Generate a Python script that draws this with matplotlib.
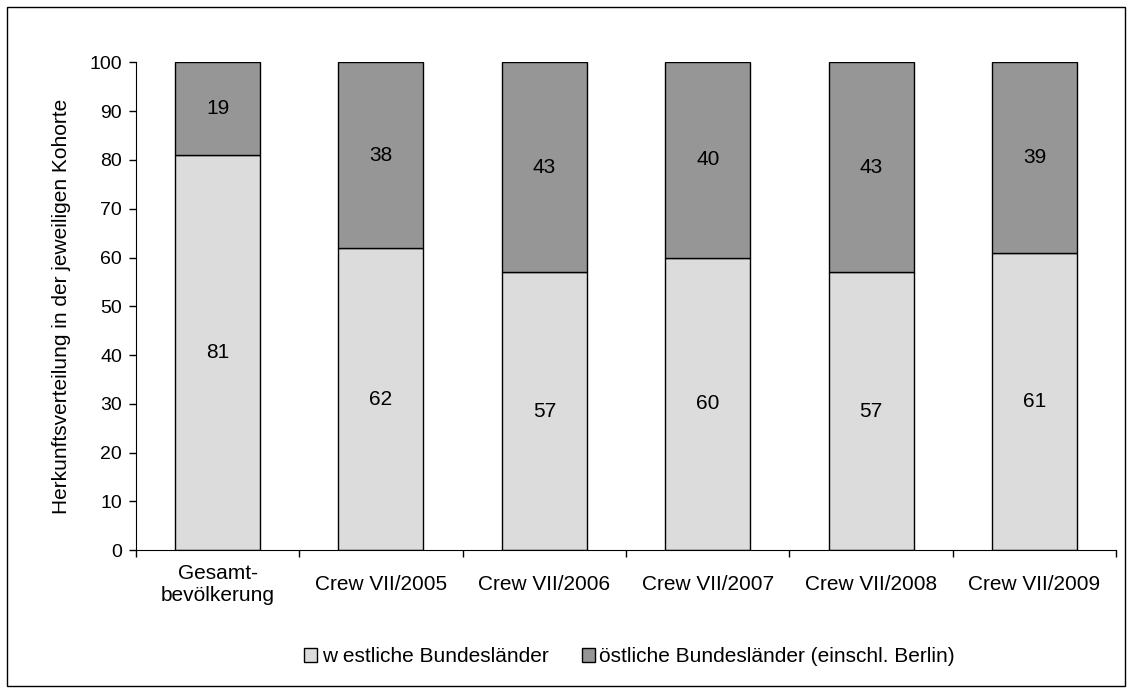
import numpy as np
import matplotlib.pyplot as plt
from matplotlib.patches import Rectangle

plt.rcParams['font.family'] = ['Liberation Sans', 'DejaVu Sans']

categories = ['Gesamt-\nbevölkerung', 'Crew VII/2005', 'Crew VII/2006',
              'Crew VII/2007', 'Crew VII/2008', 'Crew VII/2009']
west = [81, 62, 57, 60, 57, 61]
east = [19, 38, 43, 40, 43, 39]
labels = ['w estliche Bundesländer', 'östliche Bundesländer (einschl. Berlin)']

fig = plt.figure(figsize=(11.32, 6.93), dpi=100)
fig.patches.append(Rectangle((0.006, 0.010), 0.988, 0.980, transform=fig.transFigure,
                             fill=False, edgecolor='black', linewidth=1))
ax = fig.add_axes([0.120, 0.206, 0.866, 0.704])

x = np.arange(len(categories))
b1 = ax.bar(x, west, width=0.52, color='#dcdcdc', edgecolor='black', linewidth=1, label=labels[0])
b2 = ax.bar(x, east, bottom=west, width=0.52, color='#969696', edgecolor='black', linewidth=1, label=labels[1])

for i in range(len(x)):
    ax.text(x[i], west[i] / 2, str(west[i]), ha='center', va='center', fontsize=15)
    ax.text(x[i], west[i] + east[i] / 2, str(east[i]), ha='center', va='center', fontsize=15)

ax.set_xlim(-0.5, len(x) - 0.5)
ax.set_ylim(0, 100)
ax.set_yticks(range(0, 101, 10))
ax.set_xticks(x)
ax.set_xticklabels(categories, fontsize=15, va='center')
ax.set_xticks(np.arange(-0.5, len(x), 1), minor=True)
ax.tick_params(axis='x', which='major', length=0, pad=25)
ax.tick_params(axis='x', which='minor', length=5, direction='out', width=1)
ax.tick_params(axis='y', length=5, direction='out', width=1, labelsize=14, pad=5)
ax.spines['top'].set_visible(False)
ax.spines['right'].set_visible(False)
ax.set_ylabel('Herkunftsverteilung in der jeweiligen Kohorte', fontsize=15, labelpad=13)

fig.legend(handles=[b1, b2], labels=labels, loc='center', bbox_to_anchor=(0.556, 0.052),
           ncol=2, frameon=False, fontsize=15, handlelength=0.62, handleheight=0.62,
           handletextpad=0.2, columnspacing=1.6)

fig.savefig('out.png', dpi=100)
